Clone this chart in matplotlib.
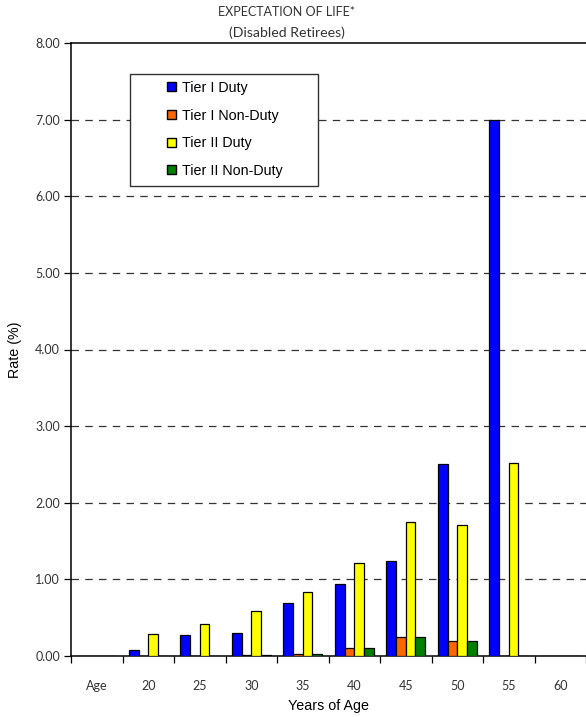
import matplotlib
matplotlib.use("Agg")
import matplotlib.pyplot as plt
from matplotlib.patches import Rectangle
import numpy as np

categories = ["Age", "20", "25", "30", "35", "40", "45", "50", "55", "60"]
tier1_duty = [0.00, 0.08, 0.28, 0.30, 0.69, 0.94, 1.24, 2.50, 7.00, 0.00]
tier1_nonduty = [0.00, 0.00, 0.005, 0.01, 0.03, 0.11, 0.25, 0.195, 0.00, 0.00]
tier2_duty = [0.00, 0.29, 0.42, 0.59, 0.835, 1.21, 1.745, 1.705, 2.52, 0.00]
tier2_nonduty = [0.00, 0.005, 0.005, 0.01, 0.03, 0.11, 0.25, 0.195, 0.00, 0.00]
y_ticks = [0, 1, 2, 3, 4, 5, 6, 7, 8]

series = [
    ("Tier I Duty", tier1_duty, "#0000ff"),
    ("Tier I Non-Duty", tier1_nonduty, "#ff6600"),
    ("Tier II Duty", tier2_duty, "#ffff00"),
    ("Tier II Non-Duty", tier2_nonduty, "#008000"),
]

W, H = 586, 717
fig = plt.figure(figsize=(W / 100, H / 100), dpi=100)
ax = fig.add_axes([71 / W, 1 - 656 / H, 1 - 71 / W, (656 - 43) / H])

x = np.arange(len(categories))
w = 0.187
for i, (name, vals, col) in enumerate(series):
    ax.bar(x + (i - 1.5) * w, vals, width=w, color=col, edgecolor="black",
           linewidth=0.9, label=name, zorder=3)

ax.set_xlim(-0.5, len(categories) - 0.5)
ax.set_ylim(0, 8)

# dashed grid lines at whole percents
for yv in y_ticks[1:-1]:
    ax.axhline(yv, color="#333333", linestyle=(0, (6, 5)), linewidth=0.9, zorder=1)

tick_font = dict(family="Lato", size=9, color="#333333")
ax.set_yticks(y_ticks)
ax.set_yticklabels([f"{v:.2f}" for v in y_ticks], **tick_font)
ax.tick_params(axis="y", direction="out", length=5, width=0.9, pad=3)

ax.set_xticks(x)
ax.set_xticklabels(categories, **tick_font)
ax.tick_params(axis="x", which="major", length=0, pad=17)
ax.set_xticks(np.arange(len(categories) + 1) - 0.5, minor=True)
ax.tick_params(axis="x", which="minor", direction="out", length=5, width=0.9)

for s in ["left", "bottom", "top"]:
    ax.spines[s].set_linewidth(1.1)
    ax.spines[s].set_color("black")
ax.spines["right"].set_visible(False)

label_font = dict(family="Liberation Sans", size=10.3)
ax.set_ylabel("Rate (%)", **label_font)
ax.yaxis.set_label_coords((15 - 71) / 515, 0.5)
ax.set_xlabel("Years of Age", **label_font)
ax.xaxis.set_label_coords(0.5, -(706 - 656) / 613)
ax.xaxis.label.set_va("center")
ax.yaxis.label.set_va("center")

fig.text(287 / W, 1 - 12 / H, "EXPECTATION OF LIFE*", ha="center", va="center",
         family="Lato", size=9, color="#333333")
fig.text(287 / W, 1 - 33 / H, "(Disabled Retirees)", ha="center", va="center",
         family="Lato", size=10.2, color="#333333")

# legend frame and entries
frame = Rectangle((130 / W, 1 - 186 / H), (318 - 130) / W, (186 - 74) / H,
                  transform=fig.transFigure, facecolor="white",
                  edgecolor="#333333", linewidth=1.0, zorder=4, clip_on=False)
ax.add_artist(frame)
leg = ax.legend(loc="upper left", bbox_to_anchor=(167 / W, 1 - 81 / H),
                bbox_transform=fig.transFigure,
                prop={"family": "Liberation Sans", "size": 10.3},
                handlelength=0.6, handleheight=0.6, handletextpad=0.45,
                labelspacing=0.95, borderpad=0, frameon=False, borderaxespad=0)
for h in leg.legend_handles:
    h.set_linewidth(1.0)
leg.set_zorder(5)

fig.savefig("out.png", dpi=100)
